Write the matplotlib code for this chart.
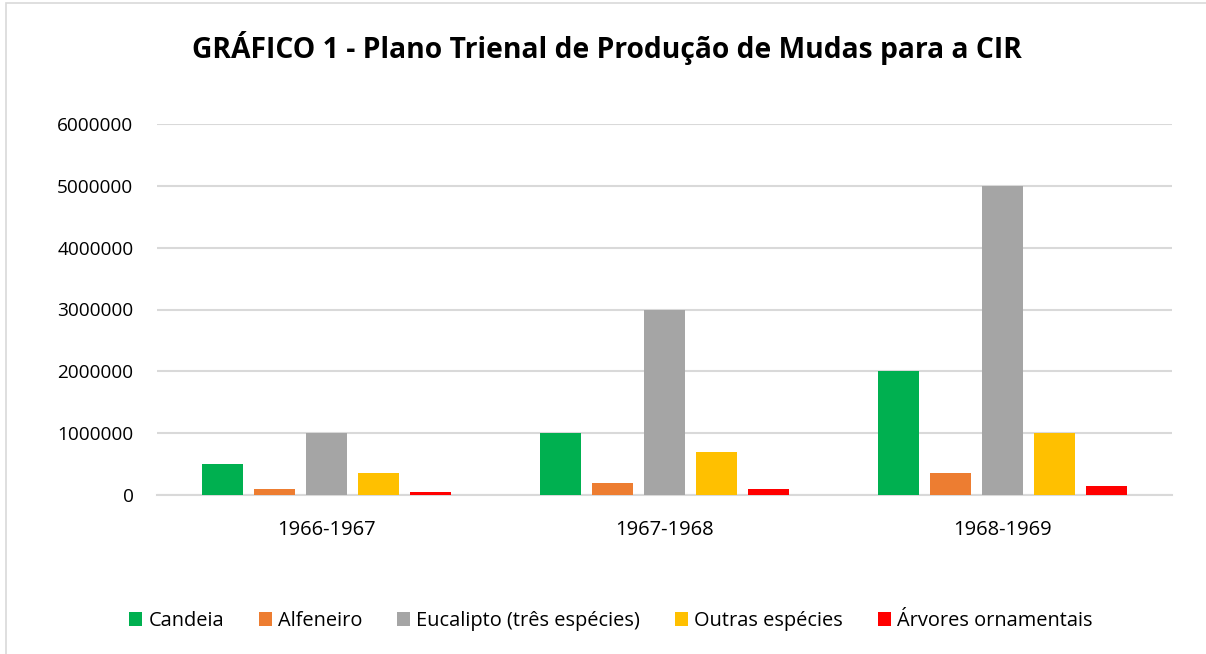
import matplotlib
matplotlib.use("Agg")
import matplotlib.pyplot as plt
from matplotlib.patches import Rectangle, Patch
import numpy as np

categories = ["1966-1967", "1967-1968", "1968-1969"]
series_names = ["Candeia", "Alfeneiro", "Eucalipto (três espécies)", "Outras espécies", "Árvores ornamentais"]
candeia = [500000, 1000000, 2000000]
alfeneiro = [100000, 200000, 350000]
eucalipto = [1000000, 3000000, 5000000]
outras = [350000, 700000, 1000000]
arvores = [50000, 100000, 150000]
colors = ["#00B050", "#ED7D31", "#A5A5A5", "#FFC000", "#FF0000"]
yticks = [0, 1000000, 2000000, 3000000, 4000000, 5000000, 6000000]

plt.rcParams['font.family'] = ['Open Sans', 'DejaVu Sans']

W, H = 1206, 654
fig = plt.figure(figsize=(W / 100, H / 100), dpi=100)

# outer border
fig.patches.append(Rectangle((6 / W, -0.1), 1.2, (H - 3) / H + 0.1, transform=fig.transFigure,
                             fill=False, edgecolor="#d9d9d9", linewidth=1.2))

left, right, top, bottom = 157, 1172, 124, 495
ax = fig.add_axes([left / W, 1 - bottom / H, (right - left) / W, (bottom - top) / H])

series = [candeia, alfeneiro, eucalipto, outras, arvores]
x = np.arange(len(categories))
step = 0.1537
width = 0.121
for i, (name, vals, c) in enumerate(zip(series_names, series, colors)):
    ax.bar(x + (i - 2) * step, vals, width=width, color=c, label=name, zorder=3)

ax.set_xlim(-0.5, 2.5)
ax.set_ylim(0, 6000000)
ax.set_yticks(yticks)
ax.set_yticklabels([str(v) for v in yticks])
ax.set_xticks(x)
ax.set_xticklabels(categories)
ax.yaxis.grid(True, color="#d9d9d9", linewidth=1.5, zorder=0)
for s in ["top", "right", "left"]:
    ax.spines[s].set_visible(False)
ax.spines["bottom"].set_color("#d9d9d9")
ax.spines["bottom"].set_linewidth(1.5)
ax.tick_params(axis="both", length=0, colors="#000000")
ax.tick_params(axis="y", pad=17, labelsize=13.7)
ax.tick_params(axis="x", pad=18, labelsize=14.5)

fig.text(607 / W, 1 - 48 / H, "GRÁFICO 1 - Plano Trienal de Produção de Mudas para a CIR",
         ha="center", va="center", fontsize=20.3, fontweight="bold")

handles = [Patch(facecolor=c, edgecolor="none") for c in colors]
fig.legend(handles, series_names, loc="center", bbox_to_anchor=(611 / W, 1 - 621 / H),
           ncol=5, frameon=False, fontsize=14.4, handlelength=0.65, handleheight=0.65,
           handletextpad=0.3, columnspacing=1.75)

fig.savefig("out.png", dpi=100)
